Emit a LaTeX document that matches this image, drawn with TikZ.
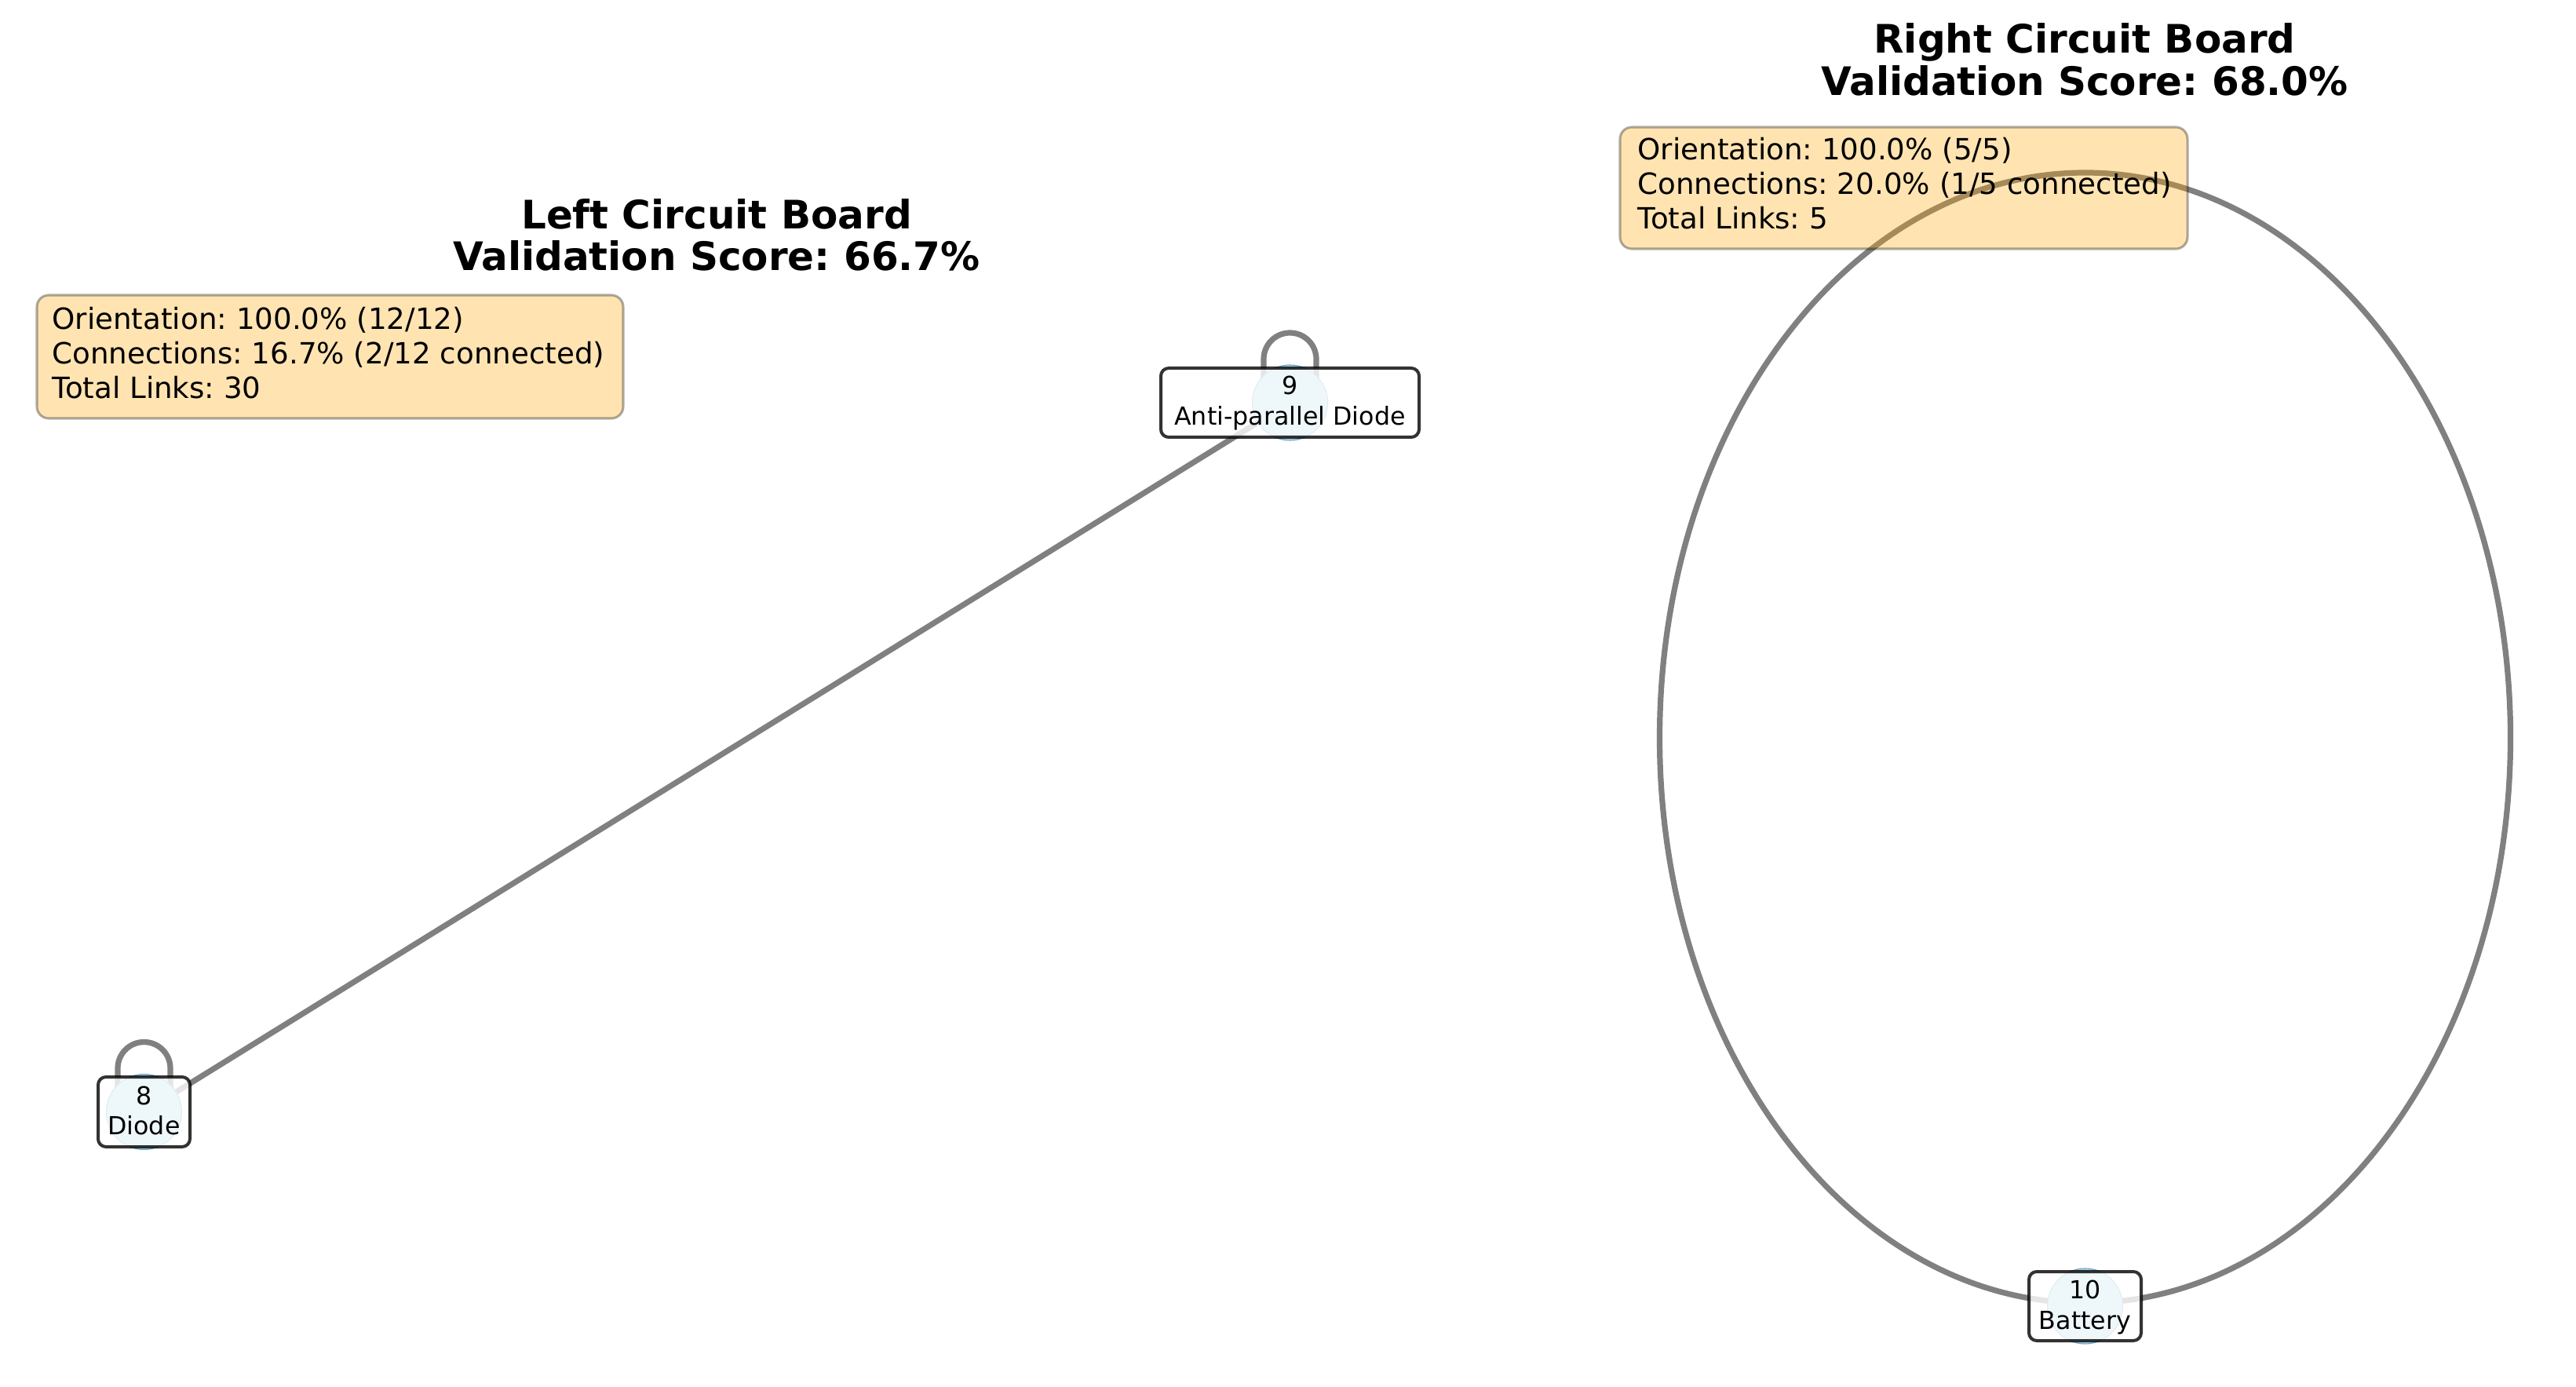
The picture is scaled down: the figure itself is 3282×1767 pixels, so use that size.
\documentclass[tikz,border=0pt]{standalone}
\usepackage{fontspec}
\setmainfont{DejaVu Sans}
\frenchspacing
\definecolor{edgegray}{RGB}{128,128,128}
\definecolor{nodeblue}{RGB}{173,216,230}
\definecolor{nodeedge}{RGB}{110,160,200}
\definecolor{infoorange}{RGB}{255,165,0}
\pgfdeclarelayer{edges}
\pgfsetlayers{edges,main}
\begin{document}
\begin{tikzpicture}[x=0.36pt,y=-0.36pt,
  edge/.style={draw=edgegray,line width=2.6pt},
  vertex/.style={circle,fill=nodeblue,draw=nodeedge,line width=0.4pt,minimum size=34.56pt,inner sep=0pt},
  labelbox/.style={rectangle,rounded corners=3.6pt,fill=white,fill opacity=0.8,draw=black,draw opacity=0.8,line width=1.44pt,inner sep=0pt},
  infobox/.style={rectangle,rounded corners=5.4pt,fill=infoorange,fill opacity=0.3,draw=black,draw opacity=0.32,line width=1.1pt,inner sep=0pt},
  infotext/.style={anchor=base west,inner sep=0pt,font=\fontsize{13.4}{16}\selectfont},
  nodetext/.style={anchor=base,inner sep=0pt,font=\fontsize{11.4}{13.7}\selectfont},
  titletext/.style={anchor=base,inner sep=0pt,font=\fontsize{18}{19}\selectfont\bfseries}]
\useasboundingbox (0,0) rectangle (3282,1767);

% node circles
\node[vertex] (c8) at (183.5,1416.5) {};
\node[vertex] (c9) at (1643.5,513) {};
\node[vertex] (c10) at (2656.5,1664) {};

% connectors (below the circles)
\begin{pgfonlayer}{edges}
\draw[edge] (c8) -- (c9);
\draw[edge] (c8.center) ++(-33.5,0) -- ++(0,-55.5) arc[start angle=180,end angle=0,radius=12.06pt] -- ++(0,55.5);
\draw[edge] (c9.center) ++(-33.5,0) -- ++(0,-55.5) arc[start angle=180,end angle=0,radius=12.06pt] -- ++(0,55.5);
\draw[edge] (c10.center) ++(0,-724) ellipse[x radius=195.12pt,y radius=259.2pt];
\end{pgfonlayer}

% info boxes
\node[infobox,minimum width=268.92pt,minimum height=56.52pt] (lbox) at (420.5,454.5) {};
\node[infotext] (l1) at (66,420) {Orientation: 100.0\% (12/12)};
\node[infotext] (l2) at (66,464) {Connections: 16.7\% (2/12 connected)};
\node[infotext] (l3) at (66,508) {Total Links: 30};

\node[infobox,minimum width=260.28pt,minimum height=55.8pt] (rbox) at (2425.5,239.5) {};
\node[infotext] (r1) at (2086,204) {Orientation: 100.0\% (5/5)};
\node[infotext] (r2) at (2086,248) {Connections: 20.0\% (1/5 connected)};
\node[infotext] (r3) at (2086,292) {Total Links: 5};

% titles
\node[titletext] (lt1) at (913,291.5) {Left Circuit Board};
\node[titletext] (lt2) at (913,345) {Validation Score: 66.7\%};
\node[titletext] (rt1) at (2656,68) {Right Circuit Board};
\node[titletext] (rt2) at (2656,121.5) {Validation Score: 68.0\%};

% node label boxes
\node[labelbox,minimum width=42.12pt,minimum height=32.04pt] (b8) at (183.5,1416.5) {};
\node[nodetext] (t8a) at (183.5,1407) {8};
\node[nodetext] (t8b) at (183.5,1445) {Diode};

\node[labelbox,minimum width=118.44pt,minimum height=31.68pt] (b9) at (1643.5,513) {};
\node[nodetext] (t9a) at (1643.5,503) {9};
\node[nodetext] (t9b) at (1643.5,542) {Anti-parallel Diode};

\node[labelbox,minimum width=51.48pt,minimum height=31.68pt] (b10) at (2656.5,1664) {};
\node[nodetext] (t10a) at (2656.5,1654) {10};
\node[nodetext] (t10b) at (2656.5,1693) {Battery};
\end{tikzpicture}
\end{document}
